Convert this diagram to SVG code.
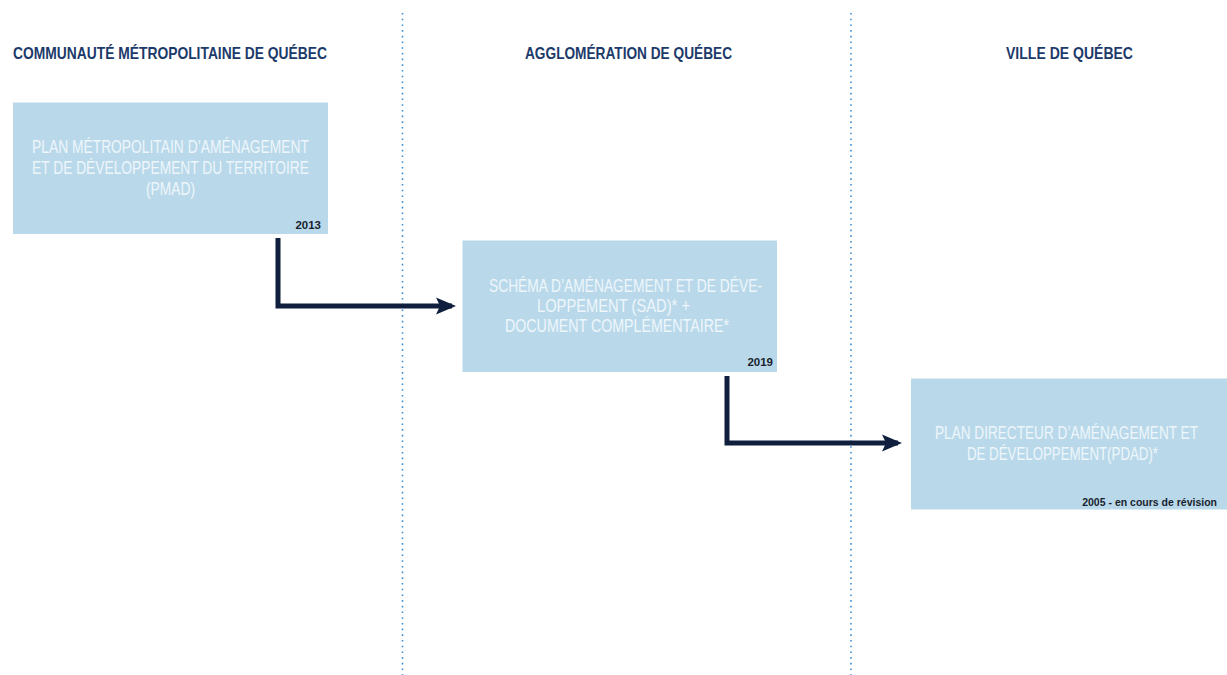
<svg xmlns="http://www.w3.org/2000/svg" width="1227" height="675" viewBox="0 0 1227 675">
<defs>
<style>
.hdr{font-family:"Liberation Sans",Arial,sans-serif;font-weight:bold;font-size:16.5px;fill:#1c3a6a}
.box{fill:#b9d9ea}
.bt{font-family:"Liberation Sans",Arial,sans-serif;font-size:18px;fill:#eef6fb}
.yr{font-family:"Liberation Sans",Arial,sans-serif;font-weight:bold;font-size:11.5px;fill:#1a1f2e;text-anchor:end}
.sep{stroke:#3d8fd4;stroke-width:1.6;stroke-dasharray:1.6 4.1;fill:none}
.conn{stroke:#0f1f3d;stroke-width:5;fill:none}
</style>
<marker id="ah" markerWidth="4" markerHeight="4" refX="3.2" refY="2" orient="auto" markerUnits="strokeWidth" viewBox="0 0 4 4">
<path d="M0,0.3 L4,2 L0,3.7 L0.8,2 Z" fill="#0f1f3d"/>
</marker>
</defs>
<rect width="1227" height="675" fill="#ffffff"/>
<g id="separators">
<line class="sep" x1="402.5" y1="13" x2="402.5" y2="675"/>
<line class="sep" x1="851" y1="13" x2="851" y2="675"/>
</g>
<g id="headers">
<text class="hdr" x="13" y="58.5" textLength="314" lengthAdjust="spacingAndGlyphs">COMMUNAUTÉ MÉTROPOLITAINE DE QUÉBEC</text>
<text class="hdr" x="525" y="58.5" textLength="207" lengthAdjust="spacingAndGlyphs">AGGLOMÉRATION DE QUÉBEC</text>
<text class="hdr" x="1006" y="58.5" textLength="127" lengthAdjust="spacingAndGlyphs">VILLE DE QUÉBEC</text>
</g>
<g id="connectors">
<path class="conn" d="M278,238 V306 H452" marker-end="url(#ah)"/>
<path class="conn" d="M727,376 V443 H898" marker-end="url(#ah)"/>
</g>
<g id="node-pmad">
<rect class="box" x="13" y="102.5" width="315" height="131.5"/>
<text class="bt" x="32" y="152.5" textLength="277" lengthAdjust="spacingAndGlyphs">PLAN MÉTROPOLITAIN D’AMÉNAGEMENT</text>
<text class="bt" x="32" y="173.5" textLength="277" lengthAdjust="spacingAndGlyphs">ET DE DÉVELOPPEMENT DU TERRITOIRE</text>
<text class="bt" x="146" y="194.5" textLength="49" lengthAdjust="spacingAndGlyphs">(PMAD)</text>
<text class="yr" x="321" y="228.5">2013</text>
</g>
<g id="node-sad">
<rect class="box" x="462.5" y="240.5" width="314.5" height="131.5"/>
<text class="bt" x="489" y="291.5" textLength="273" lengthAdjust="spacingAndGlyphs">SCHÉMA D’AMÉNAGEMENT ET DE DÉVE-</text>
<text class="bt" x="537" y="311.5" textLength="153" lengthAdjust="spacingAndGlyphs">LOPPEMENT (SAD)* +</text>
<text class="bt" x="505" y="331.5" textLength="224" lengthAdjust="spacingAndGlyphs">DOCUMENT COMPLÉMENTAIRE*</text>
<text class="yr" x="773" y="366">2019</text>
</g>
<g id="node-pdad">
<rect class="box" x="911" y="378.5" width="316" height="131"/>
<text class="bt" transform="translate(935,439) scale(0.8,1)" x="0" y="0" textLength="328.75" lengthAdjust="spacingAndGlyphs">PLAN DIRECTEUR D’AMÉNAGEMENT ET</text>
<text class="bt" x="967" y="459.5" textLength="191" lengthAdjust="spacingAndGlyphs">DE DÉVELOPPEMENT(PDAD)*</text>
<text class="yr" x="1217" y="506" style="font-size:10.5px">2005 - en cours de révision</text>
</g>
</svg>
